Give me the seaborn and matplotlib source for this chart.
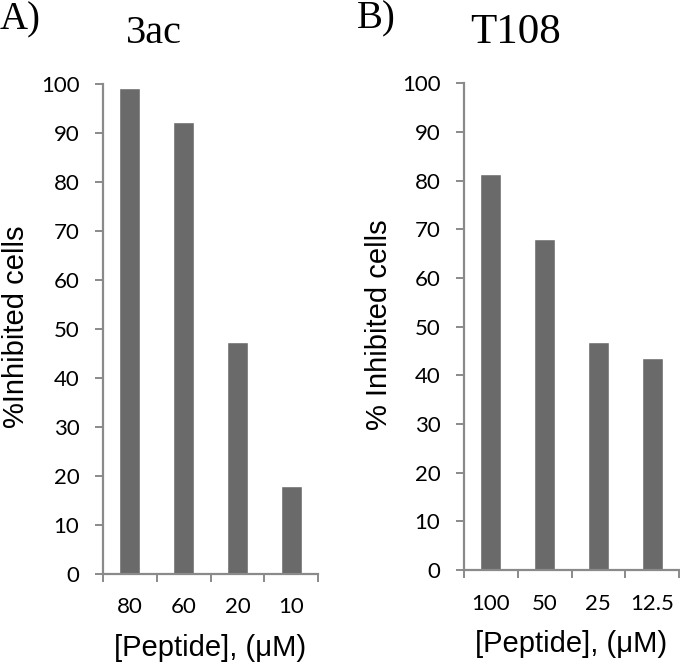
import matplotlib
matplotlib.use('Agg')
import matplotlib.pyplot as plt
import seaborn as sns
import pandas as pd

# data
conc_3ac = ['80', '60', '20', '10']
inhib_3ac = [99.2, 92.2, 47.3, 17.9]
conc_t108 = ['100', '50', '25', '12.5']
inhib_t108 = [81.4, 68.1, 46.8, 43.6]
yticks = [0, 10, 20, 30, 40, 50, 60, 70, 80, 90, 100]

sns.set_style('white')
plt.rcParams['font.family'] = ['Lato', 'DejaVu Sans']
plt.rcParams['text.color'] = 'black'
plt.rcParams['axes.labelcolor'] = 'black'
plt.rcParams['xtick.labelcolor'] = 'black'
plt.rcParams['ytick.labelcolor'] = 'black'

bar_color = '#6a6a6a'
spine_color = '#8a8a8a'
W, H = 680, 666

fig = plt.figure(figsize=(W / 100, H / 100), dpi=100)
axA = fig.add_axes([103 / W, 1 - 573.5 / H, 215 / W, 489.5 / H])
axB = fig.add_axes([464 / W, 1 - 570 / H, 215 / W, 486.7 / H])


def draw(ax, cats, vals, ylab, ylab_x):
    df = pd.DataFrame({'conc': cats, 'val': vals})
    sns.barplot(data=df, x='conc', y='val', order=cats, color=bar_color,
                width=0.39, saturation=1, ax=ax)
    ax.set_ylim(0, 100)
    ax.set_xlim(-0.5, len(cats) - 0.5)
    ax.set_yticks(yticks)
    ax.set_xticks(range(len(cats)))
    ax.set_xticks([i - 0.5 for i in range(len(cats) + 1)], minor=True)
    for s in ['top', 'right']:
        ax.spines[s].set_visible(False)
    for s in ['left', 'bottom']:
        ax.spines[s].set_color(spine_color)
        ax.spines[s].set_linewidth(1.6)
    ax.tick_params(axis='y', which='major', direction='out', length=6, width=1.4,
                   color=spine_color, left=True, pad=11, labelsize=16,
                   labelcolor='black')
    ax.tick_params(axis='x', which='major', length=0, pad=17, labelsize=16,
                   labelcolor='black')
    ax.tick_params(axis='x', which='minor', direction='out', length=6, width=1.4,
                   color=spine_color, bottom=True)
    ax.set_ylabel(ylab, family=['Liberation Sans', 'DejaVu Sans'], fontsize=21,
                  color='black')
    ax.set_xlabel('[Peptide], (\u03bcM)', family=['Liberation Sans', 'DejaVu Sans'],
                  fontsize=21, color='black')
    ax.yaxis.set_label_coords(ylab_x, 0.505)
    ax.xaxis.set_label_coords(0.5, -0.124)


draw(axA, conc_3ac, inhib_3ac, '%Inhibited cells', -0.34)
draw(axB, conc_t108, inhib_t108, '% Inhibited cells', -0.33)

serif = ['Liberation Serif', 'DejaVu Serif']
fig.text(0 / W, 1 - 29 / H, 'A)', family=serif, fontsize=28, va='baseline', ha='left')
fig.text(126 / W, 1 - 43 / H, '3ac', family=serif, fontsize=29, va='baseline', ha='left')
fig.text(357 / W, 1 - 28 / H, 'B)', family=serif, fontsize=28, va='baseline', ha='left')
fig.text(470 / W, 1 - 43 / H, 'T108', family=serif, fontsize=31, va='baseline', ha='left')

fig.savefig('out.png', dpi=100)
